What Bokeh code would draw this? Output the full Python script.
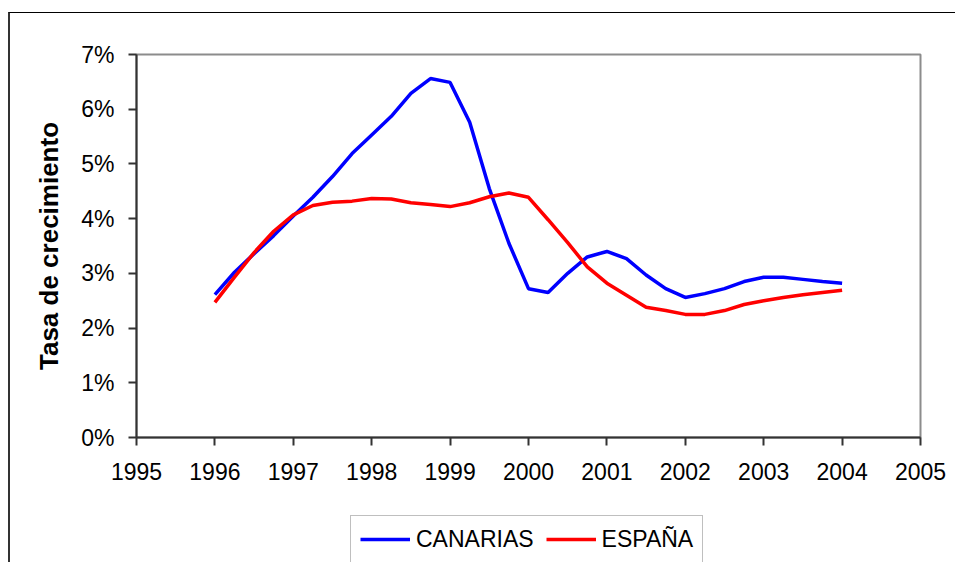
from bokeh.plotting import figure
from bokeh.layouts import column
from bokeh.models import NumeralTickFormatter, FixedTicker, Legend, LegendItem, Range1d
from bokeh.embed import file_html
from bokeh.resources import INLINE

# Quarterly dates (decimal years)
quarters = [1996.00, 1996.25, 1996.50, 1996.75,
            1997.00, 1997.25, 1997.50, 1997.75,
            1998.00, 1998.25, 1998.50, 1998.75,
            1999.00, 1999.25, 1999.50, 1999.75,
            2000.00, 2000.25, 2000.50, 2000.75,
            2001.00, 2001.25, 2001.50, 2001.75,
            2002.00, 2002.25, 2002.50, 2002.75,
            2003.00, 2003.25, 2003.50, 2003.75,
            2004.00]

canarias = [2.61, 3.02, 3.36, 3.69,
            4.05, 4.39, 4.77, 5.19,
            5.53, 5.87, 6.29, 6.56,
            6.49, 5.76, 4.55, 3.55,
            2.72, 2.65, 3.00, 3.30,
            3.40, 3.27, 2.97, 2.72,
            2.56, 2.63, 2.72, 2.85,
            2.93, 2.93, 2.89, 2.85,
            2.82]

espana = [2.47, 2.93, 3.38, 3.77,
          4.07, 4.24, 4.30, 4.32,
          4.37, 4.36, 4.29, 4.26,
          4.22, 4.29, 4.40, 4.47,
          4.39, 3.98, 3.56, 3.12,
          2.82, 2.60, 2.38, 2.32,
          2.25, 2.25, 2.32, 2.43,
          2.50, 2.56, 2.61, 2.65,
          2.69]

series_names = ["CANARIAS", "ESPAÑA"]
x_ticks = [1995, 1996, 1997, 1998, 1999, 2000, 2001, 2002, 2003, 2004, 2005]
y_ticks = [0.00, 0.01, 0.02, 0.03, 0.04, 0.05, 0.06, 0.07]

FONT = "Liberation Sans"
BLUE = "#0000ff"
RED = "#ff0000"

# ---------------- main chart ----------------
p = figure(width=945, height=492, output_backend="svg", toolbar_location=None,
           x_range=Range1d(1995, 2005), y_range=Range1d(0, 0.07),
           min_border_left=126, min_border_right=35, min_border_top=41, min_border_bottom=68,
           background_fill_color="white", border_fill_color="white")

p.grid.visible = False
p.outline_line_color = "#8c8c8c"
p.outline_line_width = 2

p.line(quarters, [v / 100 for v in canarias], line_color=BLUE, line_width=3.5)
p.line(quarters, [v / 100 for v in espana], line_color=RED, line_width=3.5)

for ax in (p.xaxis[0], p.yaxis[0]):
    ax.axis_line_color = "#333333"
    ax.axis_line_width = 2
    ax.major_tick_line_color = "#333333"
    ax.major_tick_line_width = 2
    ax.major_tick_in = 0
    ax.major_tick_out = 8
    ax.minor_tick_line_color = None
    ax.major_label_text_font = FONT
    ax.major_label_text_font_size = "23px"
    ax.major_label_text_color = "#000000"

p.xaxis.ticker = FixedTicker(ticks=x_ticks)
p.yaxis.ticker = FixedTicker(ticks=y_ticks)
p.yaxis.formatter = NumeralTickFormatter(format="0%")
p.xaxis.major_label_standoff = 17
p.yaxis.major_label_standoff = 14

p.yaxis.axis_label = "Tasa de crecimiento"
p.yaxis.axis_label_text_font = FONT
p.yaxis.axis_label_text_font_style = "bold"
p.yaxis.axis_label_text_font_size = "26px"
p.yaxis.axis_label_text_color = "#000000"
p.yaxis.axis_label_standoff = 14

# ---------------- legend strip ----------------
q = figure(width=945, height=57, output_backend="svg", toolbar_location=None,
           x_range=Range1d(0, 1), y_range=Range1d(10, 11), min_border=0,
           background_fill_color="white", border_fill_color="white")
q.axis.visible = False
q.grid.visible = False
q.outline_line_color = None

c_key = q.line(quarters, [v / 100 for v in canarias], line_color=BLUE, line_width=3.5)
e_key = q.line(quarters, [v / 100 for v in espana], line_color=RED, line_width=3.5)

legend = Legend(items=[LegendItem(label=series_names[0], renderers=[c_key]),
                       LegendItem(label=series_names[1], renderers=[e_key])],
                orientation="horizontal", location=(214, -1))
legend.label_text_font = FONT
legend.label_text_font_size = "23px"
legend.label_text_color = "#000000"
legend.glyph_width = 50
legend.glyph_height = 28
legend.label_height = 28
legend.label_standoff = 6
legend.spacing = 12
legend.padding = 9
legend.margin = 0
legend.border_line_color = "#808080"
legend.border_line_width = 1.5
legend.background_fill_color = "white"
q.add_layout(legend, "center")

layout = column(p, q, spacing=0,
                styles={"margin-top": "12px", "margin-left": "8px",
                        "border-top": "1px solid #000000",
                        "border-left": "2px solid #333333"})

open("out.html", "w").write(file_html(layout, INLINE))
